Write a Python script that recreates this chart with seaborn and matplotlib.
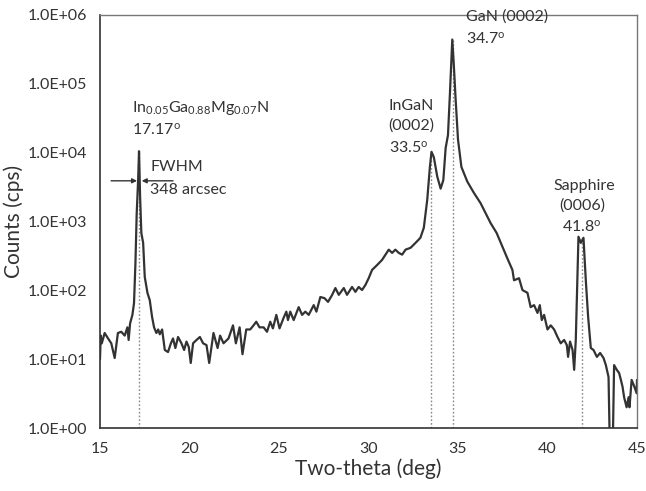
import numpy as np
import pandas as pd
import matplotlib
matplotlib.use("Agg")
import matplotlib.pyplot as plt
import seaborn as sns
from matplotlib.ticker import FixedLocator, FuncFormatter, LogLocator, NullFormatter

two_theta = [15.00, 15.04, 15.10, 15.26, 15.45, 15.63, 15.82, 16.00, 16.19, 16.38, 16.53, 16.60,
             16.68, 16.81, 16.90, 16.98, 17.05, 17.13, 17.18, 17.24, 17.31, 17.41, 17.50, 17.65,
             17.78, 17.91, 18.02, 18.15, 18.25, 18.34, 18.47, 18.62, 18.80, 18.96, 19.08, 19.21,
             19.36, 19.55, 19.70, 19.83, 19.96, 20.07, 20.20, 20.39, 20.58, 20.76, 20.95, 21.10,
             21.34, 21.57, 21.71, 21.90, 22.18, 22.43, 22.59, 22.80, 22.96, 23.17, 23.39, 23.58,
             23.73, 23.91, 24.14, 24.33, 24.51, 24.66, 24.85, 25.03, 25.26, 25.41, 25.50, 25.63,
             25.82, 26.10, 26.29, 26.47, 26.66, 26.94, 27.09, 27.31, 27.54, 27.74, 27.97, 28.15,
             28.34, 28.62, 28.80, 29.08, 29.27, 29.45, 29.64, 29.83, 30.01, 30.20, 30.48, 30.76,
             30.95, 31.13, 31.32, 31.50, 31.69, 31.88, 32.07, 32.35, 32.63, 32.90, 33.09, 33.28,
             33.43, 33.52, 33.65, 33.84, 34.03, 34.18, 34.31, 34.44, 34.55, 34.68, 34.77, 34.87,
             35.00, 35.19, 35.52, 35.89, 36.26, 36.54, 36.82, 37.16, 37.48, 37.76, 38.04, 38.13,
             38.41, 38.60, 38.88, 39.06, 39.25, 39.44, 39.57, 39.68, 39.81, 40.00, 40.18, 40.37,
             40.56, 40.74, 40.93, 41.08, 41.15, 41.26, 41.40, 41.49, 41.58, 41.67, 41.73, 41.86,
             42.01, 42.14, 42.27, 42.42, 42.57, 42.76, 42.94, 43.13, 43.26, 43.41, 43.50, 43.63,
             43.72, 43.87, 44.00, 44.10, 44.19, 44.28, 44.42, 44.53, 44.58, 44.70, 44.85, 44.98,
             45.00]
counts = [10, 22, 17, 24, 20, 17, 10.4, 24, 25, 22, 29, 19,
          33, 44, 65, 250, 1300, 4000, 10500, 2300, 680, 490, 157, 92,
          72, 41, 29, 24, 27, 23, 27, 13.6, 12.7, 17, 20, 14.5,
          21, 17, 13.6, 18, 15, 8.8, 17, 19, 21, 17, 16, 8.8,
          24, 14.5, 22, 17, 20, 31, 17, 29, 11.8, 27, 27, 31,
          35, 29, 29, 25, 35, 28, 44, 28, 40, 49, 37, 49,
          37, 57, 44, 49, 44, 61, 49, 80, 77, 68, 86, 108,
          86, 108, 86, 112, 95, 112, 101, 120, 150, 198, 233, 277,
          330, 390, 350, 390, 350, 330, 390, 415, 490, 580, 810, 2050,
          6200, 10300, 8600, 4500, 3000, 4000, 11700, 18000, 73000, 440000, 180000, 58000,
          15500, 6200, 3800, 2600, 1850, 1330, 950, 680, 430, 290, 198, 140,
          150, 101, 92, 57, 61, 47, 61, 37, 44, 27, 31, 27,
          21, 17, 19, 16, 10.8, 18, 13.6, 7, 19, 140, 600, 490,
          580, 140, 41, 14.5, 13.6, 10.8, 12.3, 10.4, 8.2, 5.5, 0.3, 0.3,
          8.2, 7, 6.3, 5, 4, 2.8, 2.0, 2.8, 2.0, 5, 4, 3.2,
          5]

peak_pos = [17.17, 33.5, 34.7, 41.95]
peak_top = [10500, 10300, 440000, 600]

y_ticks = [1e0, 1e1, 1e2, 1e3, 1e4, 1e5, 1e6]
x_ticks = [15, 20, 25, 30, 35, 40, 45]

sns.set_theme(style="white")
plt.rcParams['font.family'] = ['Lato', 'DejaVu Sans']
plt.rcParams['mathtext.fontset'] = 'custom'
plt.rcParams['mathtext.rm'] = 'Lato'
plt.rcParams['mathtext.it'] = 'Lato:italic'
plt.rcParams['mathtext.bf'] = 'Lato:bold'
plt.rcParams['mathtext.default'] = 'regular'

dark = '#333333'
fig = plt.figure(figsize=(6.46, 4.91), dpi=100)
ax = fig.add_axes([100/646, 1-428/491, 537/646, 413/491])

df = pd.DataFrame({'two_theta': two_theta, 'counts': counts})
sns.lineplot(data=df, x='two_theta', y='counts', ax=ax, estimator=None, sort=False,
             color=dark, lw=1.6)

ax.vlines(peak_pos, 1, peak_top, colors='#888888', linestyles=(0, (1.2, 1.5)), lw=1.0, zorder=1)

ax.set_yscale('log')
ax.set_xlim(15, 45)
ax.set_ylim(1, 1e6)
ax.set_xticks(x_ticks)
ax.xaxis.set_minor_locator(FixedLocator(np.arange(15, 46, 1)))
ax.set_yticks(y_ticks)
ax.yaxis.set_minor_locator(LogLocator(base=10, subs=np.arange(2, 10)))
ax.yaxis.set_minor_formatter(NullFormatter())
ax.yaxis.set_major_formatter(FuncFormatter(lambda v, p: f"{v:.1E}"))

ax.tick_params(axis='x', which='both', direction='in', length=4, width=0.9, color=dark,
               labelsize=11.5, labelcolor=dark, pad=10)
ax.tick_params(axis='y', which='major', direction='out', length=5, width=0.9, color=dark,
               labelsize=11.5, labelcolor=dark, pad=4)
ax.tick_params(axis='y', which='minor', direction='in', length=3, width=0.7, color=dark)
ax.tick_params(axis='both', which='both', top=False, right=False)

for s in ['left', 'bottom']:
    ax.spines[s].set_color(dark)
    ax.spines[s].set_linewidth(1.2)
for s in ['top', 'right']:
    ax.spines[s].set_color('#777777')
    ax.spines[s].set_linewidth(1.0)

ax.set_xlabel('Two-theta (deg)', fontsize=15, color=dark, labelpad=2)
ax.set_ylabel('Counts (cps)', fontsize=15, color=dark, labelpad=3)

fs = 11.5
tk = dict(fontsize=fs, color=dark, va='center', ha='left')
ax.text(16.79, 4.5e4, 'In$_{0.05}$Ga$_{0.88}$Mg$_{0.07}$N', **tk)
ax.text(16.79, 2.15e4, '17.17$^{o}$', **tk)
ax.text(17.8, 6.2e3, 'FWHM', **tk)
ax.text(17.8, 2.9e3, '348 arcsec', **tk)
ax.text(31.12, 4.8e4, 'InGaN', **tk)
ax.text(31.12, 2.45e4, '(0002)', **tk)
ax.text(31.12, 1.2e4, '33.5$^{o}$', **tk)
ax.text(35.42, 9.4e5, 'GaN (0002)', **tk)
ax.text(35.42, 4.5e5, '34.7$^{o}$', **tk)
ax.text(40.35, 3.3e3, 'Sapphire', **tk)
ax.text(40.63, 1.7e3, '(0006)', **tk)
ax.text(40.8, 8.3e2, '41.8$^{o}$', **tk)

ap = dict(arrowstyle='-|>', color=dark, lw=1.0, mutation_scale=7, shrinkA=0, shrinkB=0)
ax.annotate('', xy=(17.07, 3900), xytext=(15.62, 3900), arrowprops=ap)
ax.annotate('', xy=(17.33, 3900), xytext=(19.08, 3900), arrowprops=ap)

fig.savefig('out.png', dpi=100)
